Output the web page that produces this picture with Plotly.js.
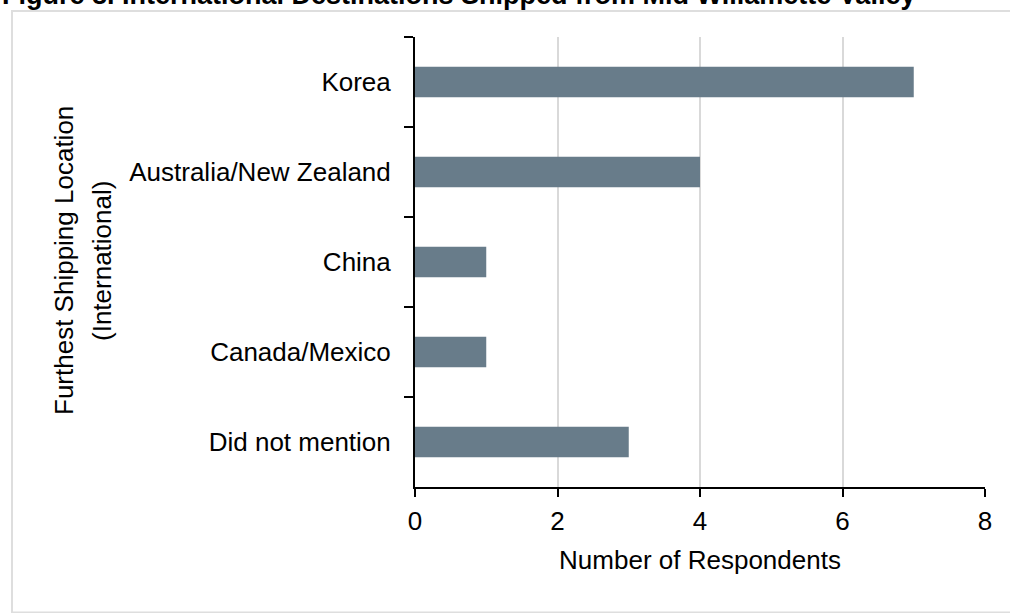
<!DOCTYPE html>
<html>
<head>
<meta charset="utf-8">
<script src="https://cdn.plot.ly/plotly-3.0.1.min.js"></script>
<style>
  html, body { margin: 0; padding: 0; background: #ffffff; }
  #chart { width: 1010px; height: 613px; }
</style>
</head>
<body>
<div id="chart"></div>
<script>
// Survey answers: furthest international shipping destination
const destinations = ['Korea', 'Australia/New Zealand', 'China', 'Canada/Mexico', 'Did not mention'];
const respondents = [7, 4, 1, 1, 3];
const xTicks = [0, 2, 4, 6, 8];

const chartTitle = 'Figure 8. International Destinations Shipped from Mid Willamette Valley';
const xTitle = 'Number of Respondents';
const yTitleLines = ['Furthest Shipping Location', '(International)'];

// Plot-area geometry in pixels (used to place frame and free-standing text)
const W = 1010, Hpx = 613;
const M = { l: 415, r: 25, t: 37, b: 126 };
const PW = W - M.l - M.r, PH = Hpx - M.t - M.b;
const px = x => (x - M.l) / PW;
const py = y => (M.t + PH - y) / PH;

const FONT = 'Liberation Sans, Arial, sans-serif';
const INK = '#000000';

const trace = {
  type: 'bar',
  orientation: 'h',
  y: destinations,
  x: respondents,
  marker: { color: '#687c8a', line: { width: 0 } },
  hoverinfo: 'x+y'
};

const layout = {
  width: W,
  height: Hpx,
  margin: M,
  paper_bgcolor: '#ffffff',
  plot_bgcolor: '#ffffff',
  showlegend: false,
  bargap: 0.66,
  font: { family: FONT, size: 26, color: INK },
  xaxis: {
    range: [0, 8],
    tickvals: xTicks,
    ticktext: xTicks.map(String),
    showgrid: true,
    gridcolor: '#d9d9d9',
    gridwidth: 2,
    zeroline: false,
    showline: true,
    linecolor: INK,
    linewidth: 2,
    ticks: 'outside',
    ticklen: 8,
    tickwidth: 2,
    tickcolor: INK,
    ticklabelstandoff: 2,
    tickfont: { family: FONT, size: 26, color: INK },
    title: { text: xTitle, font: { family: FONT, size: 26, color: INK }, standoff: 16 }
  },
  yaxis: {
    type: 'category',
    categoryorder: 'array',
    categoryarray: destinations,
    range: [destinations.length - 0.5, -0.5],
    showgrid: false,
    zeroline: false,
    showline: true,
    linecolor: INK,
    linewidth: 2,
    ticks: 'outside',
    tickson: 'boundaries',
    ticklen: 9,
    tickwidth: 2,
    tickcolor: INK,
    ticklabelstandoff: 17,
    tickfont: { family: FONT, size: 26, color: INK }
  },
  shapes: [{
    type: 'rect', xref: 'paper', yref: 'paper',
    x0: px(12), x1: px(1020), y0: py(612.5), y1: py(11),
    line: { color: '#dedede', width: 2 },
    fillcolor: 'rgba(0,0,0,0)',
    layer: 'below'
  }],
  annotations: [
    {
      text: '<b>' + chartTitle + '</b>',
      xref: 'paper', yref: 'paper',
      x: px(0), y: py(12),
      xanchor: 'left', yanchor: 'bottom',
      showarrow: false,
      font: { family: FONT, size: 27, color: INK }
    },
    {
      text: yTitleLines[0],
      xref: 'paper', yref: 'paper',
      x: px(64), y: py(261),
      xanchor: 'center', yanchor: 'middle',
      textangle: -90,
      showarrow: false,
      font: { family: FONT, size: 26, color: INK }
    },
    {
      text: yTitleLines[1],
      xref: 'paper', yref: 'paper',
      x: px(102), y: py(261),
      xanchor: 'center', yanchor: 'middle',
      textangle: -90,
      showarrow: false,
      font: { family: FONT, size: 26, color: INK }
    }
  ]
};

Plotly.newPlot('chart', [trace], layout, { displayModeBar: false, staticPlot: true });
</script>
</body>
</html>
